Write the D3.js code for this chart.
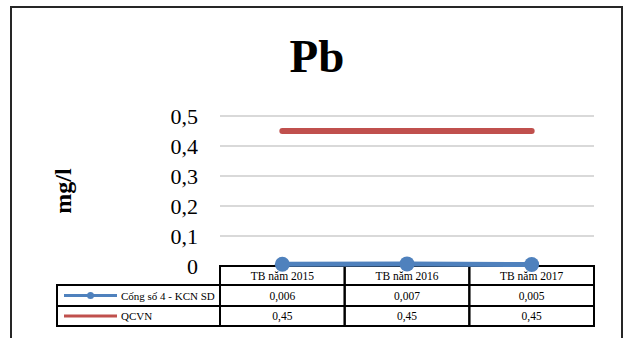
<!DOCTYPE html>
<html>
<head>
<meta charset="utf-8">
<script src="https://cdn.jsdelivr.net/npm/d3@7"></script>
<style>
  body { margin: 0; background: #fff; }
</style>
</head>
<body>
<div id="chart"></div>
<script>
// Data
var categories = ['TB năm 2015', 'TB năm 2016', 'TB năm 2017'];
var seriesNames = ['Cống số 4 - KCN SD', 'QCVN'];
var congValues = [0.006, 0.007, 0.005];
var qcvnValues = [0.45, 0.45, 0.45];
var yTicks = [0, 0.1, 0.2, 0.3, 0.4, 0.5];

var width = 625;
var height = 338;
var blue = '#4F81BD';
var red = '#C0504D';
var serif = 'Liberation Serif';

var svg = d3.select('#chart')
  .append('svg')
  .attr('width', width)
  .attr('height', height)
  .style('font-family', serif);

// Outer frame
svg.append('rect')
  .attr('x', 11)
  .attr('y', 7)
  .attr('width', 611)
  .attr('height', 400)
  .attr('fill', 'none')
  .attr('stroke', '#262626')
  .attr('stroke-width', 2);

// Title
svg.append('text')
  .attr('x', 317)
  .attr('y', 72)
  .attr('text-anchor', 'middle')
  .attr('font-size', 47)
  .attr('font-weight', 'bold')
  .text('Pb');

// Scales
var xScale = d3.scaleBand()
  .domain(categories)
  .range([220, 594])
  .padding(0);

var yScale = d3.scaleLinear()
  .domain([0, 0.5])
  .range([266, 116]);

var fmt = function (d) { return String(d).replace('.', ','); };
var mid = function (c) { return xScale(c) + xScale.bandwidth() / 2; };

// Gridlines
svg.selectAll('.grid')
  .data(yTicks.filter(function (d) { return d > 0; }))
  .enter()
  .append('line')
  .attr('x1', 220)
  .attr('x2', 594)
  .attr('y1', function (d) { return yScale(d); })
  .attr('y2', function (d) { return yScale(d); })
  .attr('stroke', '#d9d9d9')
  .attr('stroke-width', 2);

// Y tick labels
svg.selectAll('.ytick')
  .data(yTicks)
  .enter()
  .append('text')
  .attr('x', 198)
  .attr('y', function (d) { return yScale(d) + 8; })
  .attr('text-anchor', 'end')
  .attr('font-size', 22)
  .text(function (d) { return d === 0 ? '0' : fmt(d); });

// Y axis title
svg.append('text')
  .attr('transform', 'translate(71,191) rotate(-90)')
  .attr('text-anchor', 'middle')
  .attr('font-size', 24)
  .attr('font-weight', 'bold')
  .text('mg/l');

// Data table
var rowTop = [266, 285, 306, 326];
var legendLeft = 57;
var tableStroke = '#000';

var table = svg.append('g');

// header row
categories.forEach(function (c) {
  table.append('rect')
    .attr('x', xScale(c))
    .attr('y', rowTop[0])
    .attr('width', xScale.bandwidth())
    .attr('height', rowTop[1] - rowTop[0])
    .attr('fill', 'none')
    .attr('stroke', tableStroke)
    .attr('stroke-width', 2);
  table.append('text')
    .attr('x', mid(c))
    .attr('y', rowTop[0] + 14)
    .attr('text-anchor', 'middle')
    .attr('font-size', 11.5)
    .text(c);
});

var rows = [
  { name: seriesNames[0], values: congValues, color: blue, marker: true },
  { name: seriesNames[1], values: qcvnValues, color: red, marker: false }
];

rows.forEach(function (r, i) {
  var y0 = rowTop[i + 1];
  var y1 = rowTop[i + 2];
  var ym = (y0 + y1) / 2;
  table.append('rect')
    .attr('x', legendLeft)
    .attr('y', y0)
    .attr('width', 220 - legendLeft)
    .attr('height', y1 - y0)
    .attr('fill', 'none')
    .attr('stroke', tableStroke)
    .attr('stroke-width', 2);
  table.append('line')
    .attr('x1', 64)
    .attr('x2', 117)
    .attr('y1', ym)
    .attr('y2', ym)
    .attr('stroke', r.color)
    .attr('stroke-width', 3);
  if (r.marker) {
    table.append('circle')
      .attr('cx', 90.5)
      .attr('cy', ym)
      .attr('r', 3.5)
      .attr('fill', r.color);
  }
  table.append('text')
    .attr('x', 121)
    .attr('y', ym + 4)
    .attr('font-size', 11)
    .text(r.name);
  categories.forEach(function (c, j) {
    table.append('rect')
      .attr('x', xScale(c))
      .attr('y', y0)
      .attr('width', xScale.bandwidth())
      .attr('height', y1 - y0)
      .attr('fill', 'none')
      .attr('stroke', tableStroke)
      .attr('stroke-width', 2);
    table.append('text')
      .attr('x', mid(c))
      .attr('y', ym + 4)
      .attr('text-anchor', 'middle')
      .attr('font-size', 11.5)
      .text(fmt(r.values[j]));
  });
});

// Lines
var line = d3.line()
  .x(function (d, i) { return mid(categories[i]); })
  .y(function (d) { return yScale(d); });

svg.append('path')
  .datum(qcvnValues)
  .attr('d', line)
  .attr('fill', 'none')
  .attr('stroke', red)
  .attr('stroke-width', 6)
  .attr('stroke-linecap', 'round');

svg.append('path')
  .datum(congValues)
  .attr('d', line)
  .attr('fill', 'none')
  .attr('stroke', blue)
  .attr('stroke-width', 5)
  .attr('stroke-linecap', 'round');

svg.selectAll('.dot')
  .data(congValues)
  .enter()
  .append('circle')
  .attr('cx', function (d, i) { return mid(categories[i]); })
  .attr('cy', function (d) { return yScale(d); })
  .attr('r', 7.5)
  .attr('fill', blue);
</script>
</body>
</html>
